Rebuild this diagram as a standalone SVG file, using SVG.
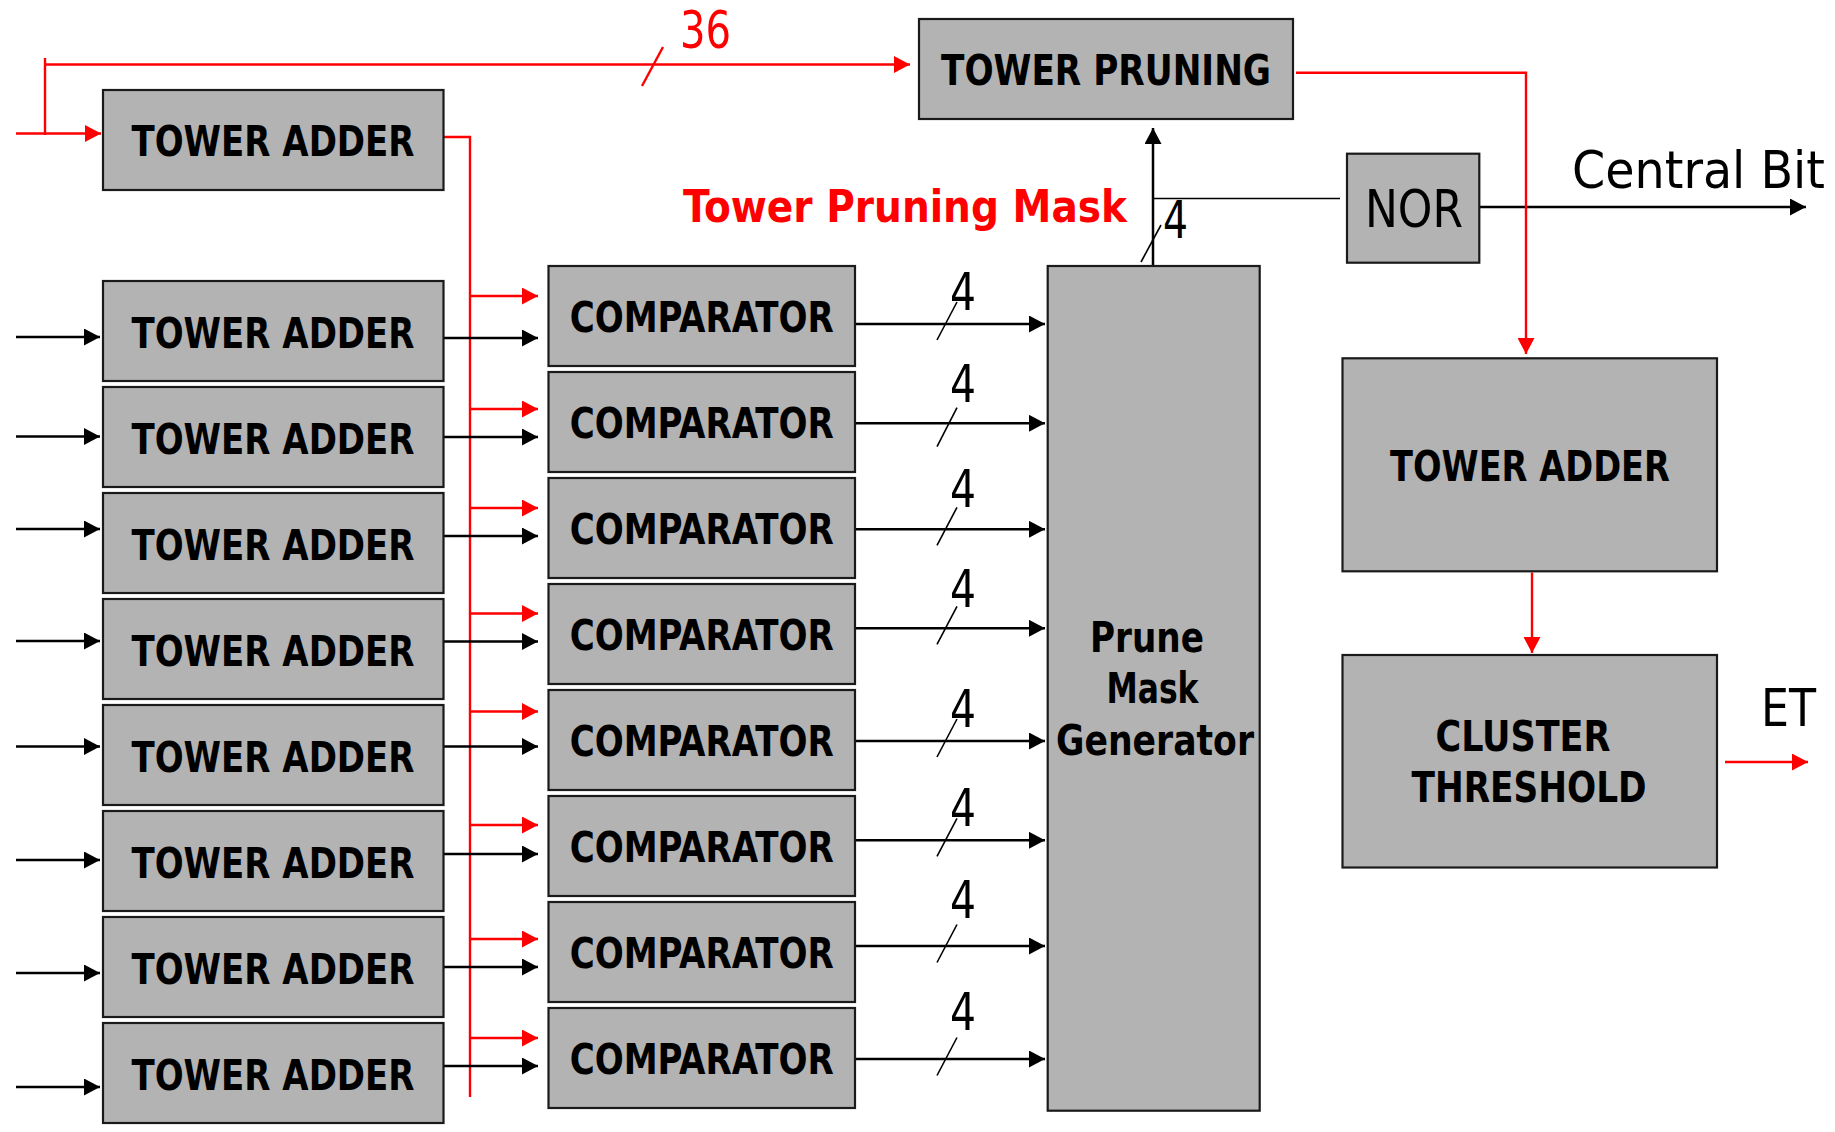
<svg xmlns="http://www.w3.org/2000/svg" width="1835" height="1132" viewBox="0 0 1835 1132">
<defs>
<style>
.box{fill:#b3b3b3;stroke:#1a1a1a;stroke-width:2.2}
.lbl{font-family:"DejaVu Sans Condensed","DejaVu Sans",sans-serif;font-stretch:condensed;font-weight:bold;font-size:42px;fill:#000;text-anchor:middle}
.reg{font-family:"DejaVu Sans Condensed","DejaVu Sans",sans-serif;font-stretch:condensed;font-size:51px;fill:#000}
.blk{stroke:#000;stroke-width:2.5;fill:none}
.thin{stroke:#000;stroke-width:1.6;fill:none}
.red{stroke:#ff0000;stroke-width:2.4;fill:none}
.ab{marker-end:url(#ahB)}
.ar{marker-end:url(#ahR)}
</style>
<marker id="ahB" markerUnits="userSpaceOnUse" markerWidth="16" markerHeight="17" viewBox="0 0 16 17" refX="16" refY="8.5" orient="auto"><path d="M0,0 L16,8.5 L0,17 z" fill="#000"/></marker>
<marker id="ahR" markerUnits="userSpaceOnUse" markerWidth="16" markerHeight="17" viewBox="0 0 16 17" refX="16" refY="8.5" orient="auto"><path d="M0,0 L16,8.5 L0,17 z" fill="#ff0000"/></marker>
</defs>
<rect width="1835" height="1132" fill="#fff"/>

<g id="connectors">
<polyline class="red" points="45,58 45,135"/>
<line class="red ar" x1="45" y1="64.5" x2="910" y2="64.5"/>
<line class="red" x1="642" y1="86" x2="663" y2="47"/>
<line class="red ar" x1="16" y1="133.5" x2="101" y2="133.5"/>
<polyline class="red" points="443.5,137 470,137 470,1097"/>
<line class="red ar" x1="470" y1="296" x2="538" y2="296"/>
<line class="red ar" x1="470" y1="409" x2="538" y2="409"/>
<line class="red ar" x1="470" y1="508" x2="538" y2="508"/>
<line class="red ar" x1="470" y1="613.5" x2="538" y2="613.5"/>
<line class="red ar" x1="470" y1="711.5" x2="538" y2="711.5"/>
<line class="red ar" x1="470" y1="825" x2="538" y2="825"/>
<line class="red ar" x1="470" y1="939" x2="538" y2="939"/>
<line class="red ar" x1="470" y1="1038" x2="538" y2="1038"/>
<line class="blk ab" x1="16" y1="337" x2="100" y2="337"/>
<line class="blk ab" x1="16" y1="436.5" x2="100" y2="436.5"/>
<line class="blk ab" x1="16" y1="529" x2="100" y2="529"/>
<line class="blk ab" x1="16" y1="641" x2="100" y2="641"/>
<line class="blk ab" x1="16" y1="746.5" x2="100" y2="746.5"/>
<line class="blk ab" x1="16" y1="860" x2="100" y2="860"/>
<line class="blk ab" x1="16" y1="973" x2="100" y2="973"/>
<line class="blk ab" x1="16" y1="1087" x2="100" y2="1087"/>
<line class="blk ab" x1="443.5" y1="338" x2="538" y2="338"/>
<line class="blk ab" x1="443.5" y1="437" x2="538" y2="437"/>
<line class="blk ab" x1="443.5" y1="536" x2="538" y2="536"/>
<line class="blk ab" x1="443.5" y1="641.5" x2="538" y2="641.5"/>
<line class="blk ab" x1="443.5" y1="746.5" x2="538" y2="746.5"/>
<line class="blk ab" x1="443.5" y1="854" x2="538" y2="854"/>
<line class="blk ab" x1="443.5" y1="967" x2="538" y2="967"/>
<line class="blk ab" x1="443.5" y1="1066" x2="538" y2="1066"/>
<line class="blk ab" x1="855" y1="324" x2="1045" y2="324"/>
<line class="blk ab" x1="855" y1="423.3" x2="1045" y2="423.3"/>
<line class="blk ab" x1="855" y1="529.3" x2="1045" y2="529.3"/>
<line class="blk ab" x1="855" y1="628.3" x2="1045" y2="628.3"/>
<line class="blk ab" x1="855" y1="741" x2="1045" y2="741"/>
<line class="blk ab" x1="855" y1="840.3" x2="1045" y2="840.3"/>
<line class="blk ab" x1="855" y1="946" x2="1045" y2="946"/>
<line class="blk ab" x1="855" y1="1059" x2="1045" y2="1059"/>
<line class="thin" x1="937" y1="340" x2="957" y2="302"/>
<line class="thin" x1="937" y1="446.7" x2="957" y2="407.7"/>
<line class="thin" x1="937" y1="545.3" x2="957" y2="507.3"/>
<line class="thin" x1="937" y1="644.3" x2="957" y2="606.3"/>
<line class="thin" x1="937" y1="757" x2="957" y2="719"/>
<line class="thin" x1="937" y1="856.3" x2="957" y2="818.3"/>
<line class="thin" x1="937" y1="962.5" x2="957" y2="924.5"/>
<line class="thin" x1="937" y1="1075.5" x2="957" y2="1037.5"/>
<line class="blk ab" x1="1153" y1="270" x2="1153" y2="128"/>
<line class="thin" x1="1141" y1="262" x2="1161" y2="225"/>
<line class="thin" x1="1153" y1="198.5" x2="1340" y2="198.5"/>
<line class="blk ab" x1="1476" y1="207" x2="1806" y2="207"/>
<polyline class="red ar" points="1296,72.7 1526,72.7 1526,354"/>
<line class="red ar" x1="1532" y1="572.5" x2="1532" y2="653"/>
<line class="red ar" x1="1725" y1="762" x2="1808" y2="762"/>
</g>

<g id="labels">
<text x="680" y="47.5" font-family="DejaVu Sans Condensed, DejaVu Sans, sans-serif" font-stretch="condensed" font-size="52" fill="#ff0000" textLength="51" lengthAdjust="spacingAndGlyphs">36</text>
<text x="683" y="221.5" font-family="DejaVu Sans Condensed, DejaVu Sans, sans-serif" font-stretch="condensed" font-weight="bold" font-size="45" fill="#ff0000" textLength="444" lengthAdjust="spacingAndGlyphs">Tower Pruning Mask</text>
<text class="reg" x="1572" y="188.3" textLength="253" lengthAdjust="spacingAndGlyphs">Central Bit</text>
<text class="reg" x="1761" y="725.7" textLength="55" lengthAdjust="spacingAndGlyphs">ET</text>
<g font-family="DejaVu Sans Condensed, DejaVu Sans, sans-serif" font-stretch="condensed" font-size="52" fill="#000">
<text x="1163" y="238.3" textLength="25" lengthAdjust="spacingAndGlyphs">4</text>
<text x="950" y="310" textLength="26" lengthAdjust="spacingAndGlyphs">4</text>
<text x="950" y="401.7" textLength="26" lengthAdjust="spacingAndGlyphs">4</text>
<text x="950" y="506.7" textLength="26" lengthAdjust="spacingAndGlyphs">4</text>
<text x="950" y="606.7" textLength="26" lengthAdjust="spacingAndGlyphs">4</text>
<text x="950" y="726.7" textLength="26" lengthAdjust="spacingAndGlyphs">4</text>
<text x="950" y="825.7" textLength="26" lengthAdjust="spacingAndGlyphs">4</text>
<text x="950" y="917.7" textLength="26" lengthAdjust="spacingAndGlyphs">4</text>
<text x="950" y="1030" textLength="26" lengthAdjust="spacingAndGlyphs">4</text>
</g>
</g>

<g id="tower-pruning"><rect class="box" x="919" y="19" width="374" height="100"/><text class="lbl" x="1106" y="85" textLength="330" lengthAdjust="spacingAndGlyphs">TOWER PRUNING</text></g>
<g id="nor"><rect class="box" x="1347" y="153.7" width="132.3" height="109"/><text class="reg" x="1365" y="227.3" textLength="98" lengthAdjust="spacingAndGlyphs">NOR</text></g>

<g id="adder-top"><rect class="box" x="103" y="90" width="340.5" height="100"/><text class="lbl" x="273" y="156" textLength="283" lengthAdjust="spacingAndGlyphs">TOWER ADDER</text></g>
<g id="adder-1"><rect class="box" x="103" y="281" width="340.5" height="100"/><text class="lbl" x="273" y="347.5" textLength="283" lengthAdjust="spacingAndGlyphs">TOWER ADDER</text></g>
<g id="adder-2"><rect class="box" x="103" y="387" width="340.5" height="100"/><text class="lbl" x="273" y="453.5" textLength="283" lengthAdjust="spacingAndGlyphs">TOWER ADDER</text></g>
<g id="adder-3"><rect class="box" x="103" y="493" width="340.5" height="100"/><text class="lbl" x="273" y="559.5" textLength="283" lengthAdjust="spacingAndGlyphs">TOWER ADDER</text></g>
<g id="adder-4"><rect class="box" x="103" y="599" width="340.5" height="100"/><text class="lbl" x="273" y="665.5" textLength="283" lengthAdjust="spacingAndGlyphs">TOWER ADDER</text></g>
<g id="adder-5"><rect class="box" x="103" y="705" width="340.5" height="100"/><text class="lbl" x="273" y="771.5" textLength="283" lengthAdjust="spacingAndGlyphs">TOWER ADDER</text></g>
<g id="adder-6"><rect class="box" x="103" y="811" width="340.5" height="100"/><text class="lbl" x="273" y="877.5" textLength="283" lengthAdjust="spacingAndGlyphs">TOWER ADDER</text></g>
<g id="adder-7"><rect class="box" x="103" y="917" width="340.5" height="100"/><text class="lbl" x="273" y="983.5" textLength="283" lengthAdjust="spacingAndGlyphs">TOWER ADDER</text></g>
<g id="adder-8"><rect class="box" x="103" y="1023" width="340.5" height="100"/><text class="lbl" x="273" y="1089.5" textLength="283" lengthAdjust="spacingAndGlyphs">TOWER ADDER</text></g>

<g id="comp-1"><rect class="box" x="548.5" y="266" width="306.5" height="100"/><text class="lbl" x="701.7" y="331.7" textLength="264" lengthAdjust="spacingAndGlyphs">COMPARATOR</text></g>
<g id="comp-2"><rect class="box" x="548.5" y="372" width="306.5" height="100"/><text class="lbl" x="701.7" y="437.7" textLength="264" lengthAdjust="spacingAndGlyphs">COMPARATOR</text></g>
<g id="comp-3"><rect class="box" x="548.5" y="478" width="306.5" height="100"/><text class="lbl" x="701.7" y="543.7" textLength="264" lengthAdjust="spacingAndGlyphs">COMPARATOR</text></g>
<g id="comp-4"><rect class="box" x="548.5" y="584" width="306.5" height="100"/><text class="lbl" x="701.7" y="649.7" textLength="264" lengthAdjust="spacingAndGlyphs">COMPARATOR</text></g>
<g id="comp-5"><rect class="box" x="548.5" y="690" width="306.5" height="100"/><text class="lbl" x="701.7" y="755.7" textLength="264" lengthAdjust="spacingAndGlyphs">COMPARATOR</text></g>
<g id="comp-6"><rect class="box" x="548.5" y="796" width="306.5" height="100"/><text class="lbl" x="701.7" y="861.7" textLength="264" lengthAdjust="spacingAndGlyphs">COMPARATOR</text></g>
<g id="comp-7"><rect class="box" x="548.5" y="902" width="306.5" height="100"/><text class="lbl" x="701.7" y="967.7" textLength="264" lengthAdjust="spacingAndGlyphs">COMPARATOR</text></g>
<g id="comp-8"><rect class="box" x="548.5" y="1008" width="306.5" height="100"/><text class="lbl" x="701.7" y="1073.7" textLength="264" lengthAdjust="spacingAndGlyphs">COMPARATOR</text></g>

<g id="prune-mask-generator"><rect class="box" x="1047.7" y="266" width="212" height="844.7"/>
<text class="lbl" font-size="43" x="1147" y="652.3" textLength="114" lengthAdjust="spacingAndGlyphs">Prune</text>
<text class="lbl" font-size="43" x="1152.5" y="703.3" textLength="92" lengthAdjust="spacingAndGlyphs">Mask</text>
<text class="lbl" font-size="43" x="1155" y="755" textLength="198" lengthAdjust="spacingAndGlyphs">Generator</text></g>

<g id="adder-right"><rect class="box" x="1342.5" y="358.3" width="374.5" height="213"/><text class="lbl" x="1530" y="480.5" textLength="280" lengthAdjust="spacingAndGlyphs">TOWER ADDER</text></g>
<g id="cluster-threshold"><rect class="box" x="1342.5" y="655" width="374.5" height="212.5"/>
<text class="lbl" x="1523" y="750.7" textLength="175" lengthAdjust="spacingAndGlyphs">CLUSTER</text>
<text class="lbl" x="1529" y="802.3" textLength="235" lengthAdjust="spacingAndGlyphs">THRESHOLD</text></g>
</svg>
